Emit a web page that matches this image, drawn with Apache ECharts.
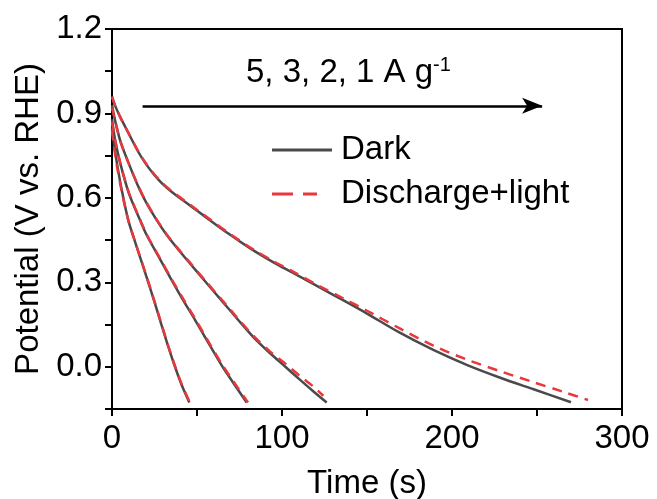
<!DOCTYPE html>
<html>
<head>
<meta charset="utf-8">
<script src="https://cdn.jsdelivr.net/npm/echarts@6/dist/echarts.min.js"></script>
<style>
  html, body { margin: 0; padding: 0; background: #fff; }
  #chart { width: 657px; height: 499px; }
</style>
</head>
<body>
<div id="chart"></div>
<script>
// 5 A/g
const t5 = [0, 1, 3, 6, 9.6, 14, 19.4, 24, 28.2, 33, 37, 41, 45.5];
const v5 = [0.85, 0.8, 0.72, 0.62, 0.52, 0.436, 0.336, 0.249, 0.167, 0.073, 0.001, -0.065, -0.127];
const t5L = [0, 1, 3, 6, 9.6, 14, 19.4, 24, 28.2, 33, 37, 41, 46];
const v5L = [0.84, 0.79, 0.71, 0.615, 0.52, 0.437, 0.338, 0.252, 0.17, 0.076, 0.004, -0.062, -0.13];
// 3 A/g
const t3 = [0, 2, 5, 10, 16.5, 20.4, 28, 35, 42, 48.8, 56, 64.5, 72, 79.2];
const v3 = [0.88, 0.8, 0.72, 0.615, 0.521, 0.468, 0.385, 0.309, 0.235, 0.167, 0.092, 0.005, -0.063, -0.127];
const t3L = [0, 2, 5, 10, 16.5, 20.4, 28, 35, 42, 48.8, 56, 64.5, 72, 80];
const v3L = [0.87, 0.8, 0.72, 0.617, 0.523, 0.47, 0.388, 0.312, 0.24, 0.172, 0.097, 0.011, -0.057, -0.127];
// 2 A/g
const t2 = [0, 2, 5, 10, 15.5, 20, 26.3, 32.2, 38, 44.9, 55, 64.5, 74, 84, 93, 101.8, 110, 118, 126.3];
const v2 = [0.93, 0.87, 0.8, 0.72, 0.64, 0.585, 0.521, 0.468, 0.424, 0.374, 0.302, 0.235, 0.168, 0.1, 0.048, 0.001, -0.043, -0.085, -0.127];
const t2L = [0, 2, 5, 10, 15.5, 20, 26.3, 32.2, 38, 44.9, 55, 64.5, 74, 84, 93, 101.8, 110, 118, 124.3];
const v2L = [0.92, 0.87, 0.8, 0.72, 0.642, 0.587, 0.523, 0.47, 0.426, 0.377, 0.305, 0.239, 0.172, 0.105, 0.054, 0.012, -0.03, -0.068, -0.103];
// 1 A/g
const t1 = [0, 2, 5, 8, 15.5, 20, 25, 30, 35, 47, 54, 68, 82, 95, 106, 120, 137, 150, 169, 189, 209, 228, 248, 270];
const v1 = [0.96, 0.925, 0.885, 0.85, 0.763, 0.72, 0.681, 0.648, 0.622, 0.568, 0.537, 0.475, 0.418, 0.371, 0.335, 0.289, 0.233, 0.189, 0.122, 0.06, 0.006, -0.038, -0.08, -0.126];
const t1L = [0, 2, 5, 8, 15.5, 20, 25, 30, 35, 47, 54, 68, 82, 95, 106, 120, 137, 150, 169, 189, 209, 228, 248, 265, 280];
const v1L = [0.96, 0.925, 0.885, 0.85, 0.765, 0.722, 0.683, 0.651, 0.625, 0.571, 0.54, 0.478, 0.421, 0.375, 0.34, 0.293, 0.24, 0.199, 0.137, 0.075, 0.025, -0.015, -0.055, -0.088, -0.118];

const xTicks = [0, 100, 200, 300];
const yTicks = [0.0, 0.3, 0.6, 0.9, 1.2];
const arrowFrom = [18, 0.927];
const arrowTo = [253, 0.927];

const font = "'Liberation Sans', Arial, sans-serif";
const darkColor = '#4a4a4a';
const lightColor = '#e8383d';

const zip = (xs, ys) => xs.map((x, i) => [x, ys[i]]);

function darkSeries(xs, ys) {
  return {
    name: 'Dark', type: 'line', data: zip(xs, ys),
    showSymbol: false, symbol: 'none', smooth: 0.3, z: 2,
    lineStyle: { color: darkColor, width: 2.5 },
    itemStyle: { color: darkColor }
  };
}
function lightSeries(xs, ys) {
  return {
    name: 'Discharge+light', type: 'line', data: zip(xs, ys),
    showSymbol: false, symbol: 'none', smooth: 0.3, z: 3,
    lineStyle: { color: lightColor, width: 2.5, type: [10, 7] },
    itemStyle: { color: lightColor }
  };
}

const series = [
  darkSeries(t5, v5), darkSeries(t3, v3), darkSeries(t2, v2), darkSeries(t1, v1),
  lightSeries(t5L, v5L), lightSeries(t3L, v3L), lightSeries(t2L, v2L), lightSeries(t1L, v1L)
];
// arrow 5 -> 1 A/g
series[0].markLine = {
  silent: true,
  symbol: ['none', 'arrow'],
  symbolSize: [12, 20],
  label: { show: false },
  lineStyle: { color: '#000', width: 2.5, type: 'solid' },
  data: [[{ coord: arrowFrom }, { coord: arrowTo }]]
};

// legend samples: solid bar, and two dashes (last tiny segment only sets the width)
const solidIcon = 'path://M0,0H60V3H0Z';
const dashIcon = 'path://M0,0H21V3H0Z M31,0H45V3H31Z M59.9,1.5L60,1.5';

const chart = echarts.init(document.getElementById('chart'), null, { renderer: 'canvas' });
chart.setOption({
  backgroundColor: '#fff',
  animation: false,
  textStyle: { fontFamily: font },
  grid: {
    left: 112, right: 35, top: 29, bottom: 90,
    show: true, borderColor: '#000', borderWidth: 2,
    outerBoundsMode: 'none'
  },
  legend: {
    orient: 'vertical', left: 272, top: 132, padding: 0,
    itemWidth: 60, itemHeight: 3, itemGap: 8,
    data: [
      { name: 'Dark', icon: solidIcon },
      { name: 'Discharge+light', icon: dashIcon }
    ],
    textStyle: { fontFamily: font, fontSize: 33, color: '#000', lineHeight: 36, padding: [0, 0, 0, 4] }
  },
  graphic: [{
    type: 'text', left: 246, top: 55,
    style: {
      text: '{a|5, 3, 2, 1 A g}{b|-1}',
      rich: {
        a: { fontFamily: font, fontSize: 33, fill: '#000', lineHeight: 36 },
        b: { fontFamily: font, fontSize: 20, fill: '#000', verticalAlign: 'top', lineHeight: 36 }
      }
    }
  }],
  xAxis: {
    type: 'value', min: xTicks[0], max: xTicks[xTicks.length - 1], interval: 100,
    name: 'Time (s)', nameLocation: 'middle', nameGap: 58,
    nameTextStyle: { fontFamily: font, fontSize: 33, color: '#000' },
    axisLine: { onZero: false, lineStyle: { color: '#000', width: 2 } },
    axisTick: { show: true, length: 7, lineStyle: { color: '#000', width: 2 } },
    minorTick: { show: true, splitNumber: 2, length: 7, lineStyle: { color: '#000', width: 2 } },
    axisLabel: { fontFamily: font, fontSize: 33, color: '#000', margin: 13 },
    splitLine: { show: false }
  },
  yAxis: {
    type: 'value', min: -0.15, max: 1.2, interval: 0.15,
    name: 'Potential (V vs. RHE)', nameLocation: 'middle', nameGap: 66,
    nameTextStyle: { fontFamily: font, fontSize: 33, color: '#000' },
    axisLine: { lineStyle: { color: '#000', width: 2 } },
    axisTick: { show: true, length: 7, lineStyle: { color: '#000', width: 2 } },
    axisLabel: {
      fontFamily: font, fontSize: 33, color: '#000', margin: 10,
      formatter: v => yTicks.some(t => Math.abs(t - v) < 1e-6) ? v.toFixed(1) : ''
    },
    splitLine: { show: false }
  },
  series
});
</script>
</body>
</html>
